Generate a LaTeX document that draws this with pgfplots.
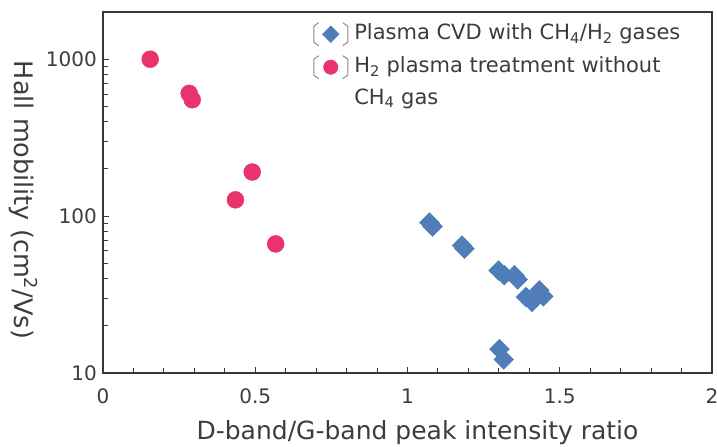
\documentclass[border=0pt]{standalone}
\usepackage{fontspec}
\setmainfont{DejaVu Sans}
\usepackage{pgfplots}
\pgfplotsset{compat=1.18}
\definecolor{axcol}{HTML}{3A3634}
\definecolor{txtcol}{HTML}{3C3C3C}
\definecolor{redpt}{HTML}{E8336D}
\definecolor{bluept}{HTML}{4F7DBA}
\definecolor{bluelg}{HTML}{2A6EBB}
\definecolor{brk}{HTML}{8C8C8C}
\begin{document}
\begin{tikzpicture}
\begin{axis}[
  name=ax,
  scale only axis,
  width=609pt, height=361pt,
  xmin=0, xmax=2,
  ymode=log, ymin=10, ymax=2000,
  axis line style={axcol, line width=1.6pt},
  every tick/.style={axcol, line width=1pt},
  major tick length=6pt, minor tick length=5pt,
  tick align=inside,
  tick pos=left,
  xtick={0,0.5,1,1.5,2},
  xticklabels={0,0.5,1,1.5,2},
  minor x tick num=4,
  ytick={10,100,1000},
  yticklabels={10,100,1000},
  minor ytick={20,30,40,50,60,70,80,90,200,300,400,500,600,700,800,900},
  /pgf/number format/assume math mode=true,
  ticklabel style={font=\fontsize{20}{24}\selectfont, text=txtcol},
  xticklabel style={anchor=base, yshift=-30pt, inner sep=0pt},
  yticklabel style={anchor=east, xshift=-6pt, inner sep=0pt},
  xlabel={D-band/G-band peak intensity ratio},
  ylabel={Hall mobility (cm\textsuperscript{2}/Vs)},
  xlabel style={at={(axis description cs:0.5,0)}, anchor=base, yshift=-66pt, xshift=10pt, font=\fontsize{25}{30}\selectfont, text=txtcol, inner sep=0pt},
  ylabel style={rotate=180, at={(axis description cs:0,0.5)}, anchor=base, yshift=-88pt, xshift=7.5pt, font=\fontsize{25.5}{30}\selectfont, text=txtcol, inner sep=0pt},
  legend image code/.code={%
    \draw[brk, line width=1pt] (-12pt,11.5pt)--(-17pt,8pt)--(-17pt,-8pt)--(-12pt,-11.5pt);
    \draw[brk, line width=1pt] (12pt,11.5pt)--(17pt,8pt)--(17pt,-8pt)--(12pt,-11.5pt);
    \draw[#1, every mark/.append style={scale=0.85}] plot coordinates {(0pt,0pt)};
  },
  legend cell align=left,
  legend style={draw=none, fill=none, at={(rel axis cs:0.34,1)}, anchor=north west,
    yshift=-8pt, row sep=9pt, column sep=6pt,
    font=\fontsize{21}{25}\selectfont, text=txtcol,
    nodes={inner sep=0pt, text height=16pt, text depth=5pt}},
]
\addplot[only marks, mark=square*, mark size=7pt, color=bluept, mark options={rotate=45, draw=bluept, fill=bluept}]
  coordinates {
  (1.072,91) (1.082,86) (1.179,65) (1.187,62) (1.299,45) (1.318,42)
  (1.351,42) (1.362,39.5) (1.389,30.5) (1.409,28.4) (1.433,33.6) (1.446,30.8)
  (1.302,14.2) (1.316,12.2)
  };
\addlegendentry{Plasma CVD with CH\textsubscript{4}/H\textsubscript{2} gases}
\addplot[only marks, mark=*, mark size=8.5pt, color=redpt, mark options={draw=redpt, fill=redpt}]
  coordinates {
  (0.155,1000) (0.283,606) (0.293,552) (0.490,191) (0.435,127) (0.567,66.5)
  };
\addlegendentry{H\textsubscript{2} plasma treatment without}
\addlegendimage{empty legend}
\addlegendentry{CH\textsubscript{4} gas}
\end{axis}
\pgfresetboundingbox
\path[use as bounding box] ([xshift=-103pt,yshift=-73pt]ax.south west) rectangle ([xshift=5pt,yshift=12pt]ax.north east);
\end{tikzpicture}
\end{document}
